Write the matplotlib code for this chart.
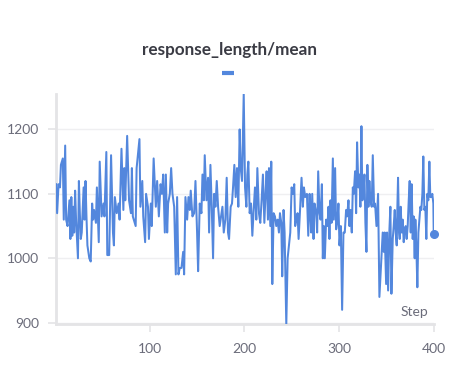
import matplotlib
matplotlib.use("Agg")
import matplotlib.pyplot as plt
from matplotlib.lines import Line2D

plt.rcParams['font.family'] = ['Lato', 'DejaVu Sans']

title = "response_length/mean"
x_label = "Step"
x_ticks = [100, 200, 300, 400]
y_ticks = [900, 1000, 1100, 1200]

steps = [
    1, 2, 3.5, 5, 6, 8, 9, 10.5, 11.5, 13, 15, 16, 17, 18, 19, 20, 21, 22, 24, 25,
    26, 27, 28, 30, 31, 32, 33, 34, 36, 37.5, 39, 40, 41, 43, 44, 46, 47, 49, 51, 52,
    54, 55, 57, 59, 61, 62, 63, 65, 67, 68, 70, 72, 73, 74, 76, 78, 80, 81, 82, 85,
    86, 89, 90, 92, 93, 95, 96, 98, 99, 101, 102, 104, 106.3, 107.7, 109.5, 111.3,
    112.7, 114.1, 115.8, 116.9, 118.3, 119.3, 121.1, 122.5, 123.9, 125.7, 127.4,
    128.8, 130.2, 131.6, 133.4, 135.2, 136.2, 137.6, 139.4, 140.8, 142.2, 143.2,
    145, 146.8, 148.2, 149.9, 151, 152.7, 154.5, 155.6, 157, 158, 159.8, 161.5,
    162.6, 164, 165.4, 166.8, 167.9, 169.3, 170.7, 172.1, 173.8, 175.2, 176.7,
    178.1, 179.8, 181.2, 182.6, 183.7, 185.4, 186.8, 187.9, 189.3, 190.7, 192.1,
    193.5, 194.9, 196, 197.4, 199.2, 200.6, 202, 203, 204.1, 205.5, 206.9, 208.3,
    209.7, 211.1, 212.5, 213.6, 215.3, 216.7, 218.1, 219.5, 221, 222.4, 223.4,
    224.8, 225.9, 227.3, 228.3, 229.4, 230.8, 232.2, 233.6, 235, 236.4, 237.5,
    238.9, 239.9, 241.3, 242.4, 244.2, 245.6, 247, 248.4, 249.8, 251.2, 252.6,
    253.6, 254.7, 256.1, 257.2, 258.9, 260.3, 261.7, 262.8, 264.2, 266, 267.4,
    268.8, 269.5, 270.5, 271.6, 273, 274, 275.8, 276.8, 277.9, 279.3, 280.4, 281.8,
    282.8, 283.9, 284.9, 286.3, 287.7, 288.8, 289.8, 290.9, 292, 293.4, 294.4,
    295.8, 296.9, 298.3, 299.3, 300.4, 301.8, 303.2, 304.6, 306, 307.4, 308.5,
    309.9, 310.9, 312, 313.4, 314.5, 315.5, 316.9, 318, 319, 320.4, 321.5, 322.5,
    323.6, 324.6, 325.7, 326.8, 327.8, 328.9, 329.9, 331, 332, 333.1, 334.5, 335.6,
    337, 338, 339.5, 341.2, 342.6, 344.7, 346.1, 347.2, 348.2, 349.7, 350.7, 351.8,
    353.2, 354.2, 355.3, 356.7, 357.7, 358.8, 359.8, 360.9, 361.6, 362.3, 363.4,
    364.1, 365.1, 366.2, 367.2, 368.3, 369.3, 370.4, 371.4, 372.5, 373.6, 374.6,
    375.7, 376.7, 377.8, 378.8, 379.9, 380.6, 381.6, 382.7, 383.8, 384.8, 385.9,
    386.9, 388, 389, 390.1, 391.1, 392.2, 393.2, 394.3, 395.4, 396.4, 397.5, 398.5,
    399.6, 400,
]

values = [
    1115, 1070, 1115, 1110, 1145, 1155, 1060, 1175, 1060, 1050, 1090, 1030, 1095,
    1035, 1080, 1040, 1105, 1060, 1000, 1120, 1070, 1030, 1040, 1110, 1060, 1120,
    1065, 1020, 1000, 995, 1085, 1060, 1075, 1055, 1110, 1025, 1150, 1065, 1085,
    1065, 1165, 1005, 1005, 1160, 1040, 1020, 1095, 1070, 1085, 1060, 1170, 1075,
    1140, 1090, 1190, 1090, 1070, 1140, 1065, 1050, 1140, 1185, 1080, 1120, 1065,
    1025, 1100, 1080, 1030, 1085, 1050, 1155, 1080, 1120, 1065, 1115, 1100, 1130,
    1040, 1130, 1040, 1085, 1100, 1140, 1100, 1080, 975, 1095, 975, 985, 985, 1010,
    975, 1095, 1060, 1095, 1075, 1105, 1065, 1070, 1120, 1040, 980, 1085, 1070,
    1130, 1090, 1160, 1090, 1125, 1040, 1145, 1080, 1000, 1100, 1080, 1120, 1080,
    1050, 1065, 1080, 1040, 1060, 1125, 1040, 1030, 1080, 1085, 1110, 1145, 1095,
    1140, 1080, 1200, 1140, 1120, 1255, 1110, 1080, 1130, 1150, 1070, 1085, 1035,
    1075, 1110, 1060, 1140, 1070, 1055, 1090, 1130, 1055, 1105, 1135, 1060, 1140,
    1050, 1150, 960, 1070, 1065, 1050, 1060, 1040, 1070, 1055, 972, 1075, 1040, 897,
    1000, 1020, 1040, 1110, 1100, 1115, 1050, 1060, 1070, 1030, 1080, 1125, 1080,
    1110, 1095, 1100, 1035, 1100, 1080, 1040, 1100, 1030, 1085, 1070, 1040, 1135,
    1070, 1060, 1115, 1000, 1050, 1000, 1060, 1050, 1080, 1030, 1090, 1055, 1155,
    1060, 1140, 1045, 1060, 1085, 1020, 1050, 920, 1040, 1040, 1075, 1065, 1090,
    1050, 1075, 1040, 1110, 1100, 1135, 1070, 1180, 1110, 1130, 1080, 1205, 1090,
    1100, 1130, 1055, 1010, 1145, 1080, 1120, 1090, 1080, 1160, 1080, 1085, 1050,
    1100, 940, 1000, 1040, 1010, 1040, 960, 1040, 950, 1045, 1080, 945, 1030, 1050,
    1075, 1040, 1020, 1080, 1125, 1040, 1030, 1080, 1040, 1060, 1025, 1045, 1050,
    1030, 1050, 1090, 1120, 1040, 1115, 1030, 1065, 1000, 1060, 1020, 955, 1040,
    1060, 1080, 1075, 1100, 1158, 1075, 1080, 1030, 1100, 1090, 1150, 1095, 1095,
    1100, 1085, 1038,
]

line_color = '#5387dd'
tick_color = '#6b6c7a'
axis_color = '#e4e4e6'

fig = plt.figure(figsize=(4.6, 3.7), dpi=100)
ax = fig.add_axes([56 / 460, 1 - 324 / 370, (434 - 56) / 460, (324 - 94) / 370])

ax.plot(steps, values, color=line_color, lw=1.45, solid_joinstyle='round', zorder=3)
ax.plot([steps[-1]], [values[-1]], marker='o', ms=5.5, color=line_color,
        clip_on=False, zorder=4)

ax.set_xlim(0.8, 400.3)
ax.set_ylim(898, 1255)
ax.set_xticks(x_ticks)
ax.set_yticks(y_ticks)

for s in ['top', 'right']:
    ax.spines[s].set_visible(False)
for s in ['left', 'bottom']:
    ax.spines[s].set_color(axis_color)
    ax.spines[s].set_linewidth(2)

ax.grid(axis='y', color='#efeff1', lw=1, zorder=0)
ax.tick_params(axis='both', colors=axis_color, length=6, width=1.2,
               labelcolor=tick_color, labelsize=10)
ax.tick_params(axis='x', pad=8)
ax.tick_params(axis='y', pad=6)

ax.text(0.985, 0.025, x_label, transform=ax.transAxes, ha='right', va='bottom',
        color=tick_color, fontsize=10)

fig.text(230 / 460, 1 - 50 / 370, title, ha='center', va='center',
         fontsize=12.3, fontweight='bold', color='#3a3b44')
fig.add_artist(Line2D([222 / 460, 234 / 460], [1 - 73 / 370, 1 - 73 / 370],
                      color=line_color, lw=3, solid_capstyle='butt',
                      transform=fig.transFigure))

fig.savefig('out.png', dpi=100)
